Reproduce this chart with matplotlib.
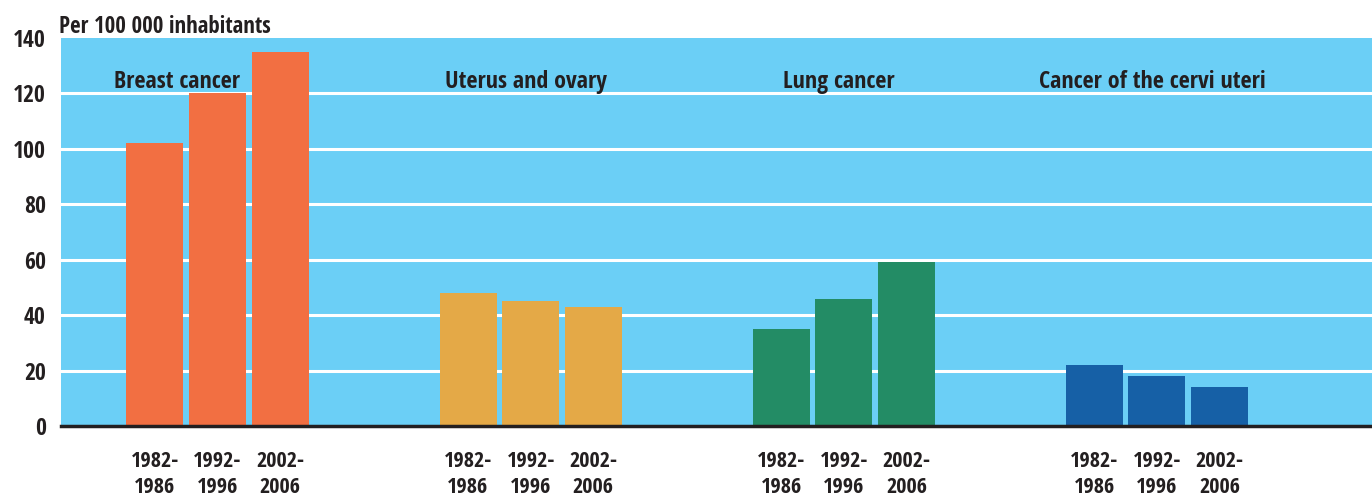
import matplotlib
matplotlib.use("Agg")
import matplotlib.pyplot as plt
from matplotlib import font_manager
import numpy as np

categories = ["Breast cancer", "Uterus and ovary", "Lung cancer", "Cancer of the cervi uteri"]
periods = ["1982-\n1986", "1992-\n1996", "2002-\n2006"]
breast = [102, 120, 135]
uterus = [48, 45, 43]
lung = [35, 46, 59]
cervix = [22, 18, 14]
series = [breast, uterus, lung, cervix]
colors = ["#f26f42", "#e4a947", "#238c65", "#1660a6"]
yticks = [0, 20, 40, 60, 80, 100, 120, 140]

# pick a condensed bold font if available
cands = []
for f in font_manager.fontManager.ttflist:
    st = str(f.stretch).lower()
    if ("narrow" in f.name.lower() or "condensed" in f.name.lower() or st in ("condensed", "semi-condensed")):
        cands.append(f.name)
fam = None
for pref in ["Liberation Sans Narrow", "Open Sans Condensed", "Roboto Condensed", "DejaVu Sans Condensed", "DejaVu Sans"]:
    if pref in cands:
        fam = pref
        break
if fam is None and cands:
    fam = cands[0]
if fam is None:
    fam = "DejaVu Sans"
plt.rcParams['font.family'] = [fam, 'DejaVu Sans']
plt.rcParams['font.stretch'] = 'condensed'
txt = "#231f20"

fig = plt.figure(figsize=(13.72, 4.99), dpi=100)
ax = fig.add_axes([61/1372, 1-426/499, 1-61/1372, (426-38)/499])
ax.set_facecolor("#6bcff6")

pitch = 0.2
width = 0.182
offsets = np.array([-1, 0, 1]) * pitch
xpos_all, xlab_all = [], []
for g, (vals, col) in enumerate(zip(series, colors)):
    xs = g + offsets
    ax.bar(xs, vals, width=width, color=col, zorder=3)
    xpos_all.extend(xs)
    xlab_all.extend(periods)

title_off = [-0.128, -0.015, -0.015, -0.015]
for g, name in enumerate(categories):
    ax.text(g + title_off[g], 124.3, name, ha="center", va="center",
            fontsize=17.3, fontweight="bold", color=txt, zorder=4)

ax.set_xlim(-0.5, 3.687)
ax.set_ylim(0, 140)
ax.set_yticks(yticks)
ax.set_yticklabels([str(v) for v in yticks], fontsize=17, fontweight="bold", color=txt)
for v in yticks[1:-1]:
    ax.axhline(v, color="white", lw=2.2, zorder=1)
ax.set_xticks(xpos_all)
ax.set_xticklabels(xlab_all, fontsize=16, fontweight="bold", color=txt, linespacing=1.3)
ax.tick_params(axis="both", length=0)
ax.tick_params(axis="x", pad=18)
ax.tick_params(axis="y", pad=11)
for s in ["top", "right", "left"]:
    ax.spines[s].set_visible(False)
ax.spines["bottom"].set_color(txt)
ax.spines["bottom"].set_linewidth(2.5)
ax.spines["bottom"].set_zorder(5)

fig.text(59/1372, 1-27/499, "Per 100 000 inhabitants", ha="left", va="center",
         fontsize=16.5, fontweight="bold", color=txt)

fig.savefig("out.png", dpi=100)
